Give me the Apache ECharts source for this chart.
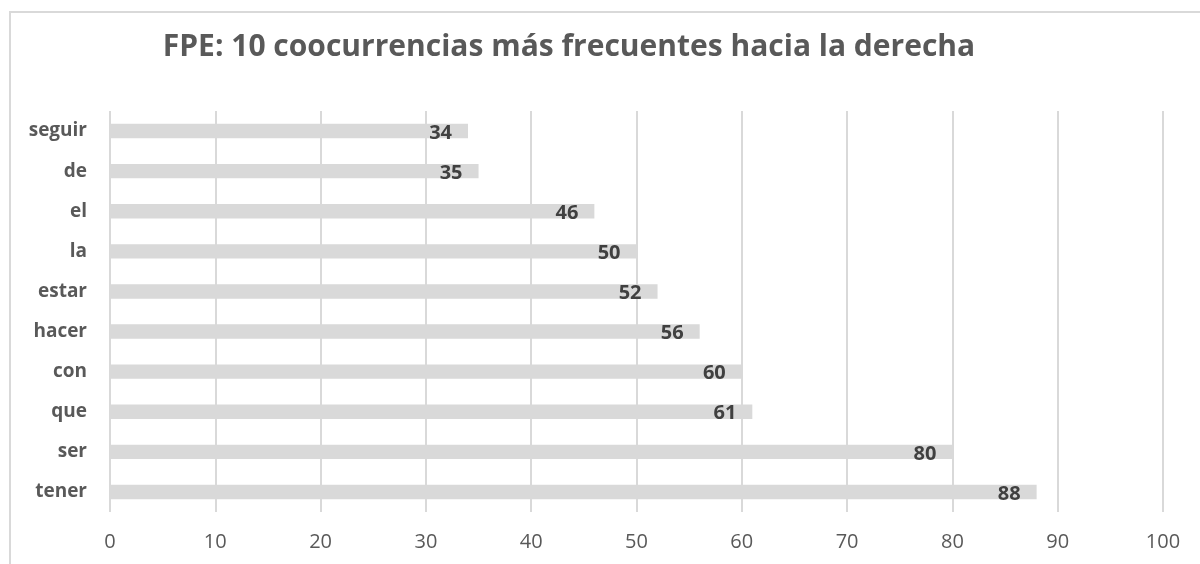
<!DOCTYPE html>
<html>
<head>
<meta charset="utf-8">
<script src="https://cdn.jsdelivr.net/npm/echarts@6/dist/echarts.min.js"></script>
<style>
  html, body { margin: 0; padding: 0; background: #fff; }
  #chart { width: 1200px; height: 564px; }
</style>
</head>
<body>
<div id="chart"></div>
<script>
// categorías de abajo hacia arriba
const categories = ['tener', 'ser', 'que', 'con', 'hacer', 'estar', 'la', 'el', 'de', 'seguir'];
const counts = [88, 80, 61, 60, 56, 52, 50, 46, 35, 34];
const xTicks = { min: 0, max: 100, interval: 10 };

const myChart = echarts.init(document.getElementById('chart'));

const option = {
  textStyle: { fontFamily: 'Open Sans' },
  title: {
    text: 'FPE: 10 coocurrencias más frecuentes hacia la derecha',
    left: 564,
    textAlign: 'center',
    top: 27,
    textStyle: { fontFamily: 'Open Sans', fontWeight: 'bold', fontSize: 30, color: '#595959' }
  },
  graphic: [
    {
      type: 'rect',
      shape: { x: 10, y: 12, width: 1300, height: 700 },
      style: { fill: 'none', stroke: '#d9d9d9', lineWidth: 2 },
      silent: true
    }
  ],
  grid: { left: 110, right: 37, top: 111, bottom: 52 },
  xAxis: {
    type: 'value',
    min: xTicks.min,
    max: xTicks.max,
    interval: xTicks.interval,
    axisLine: { show: false },
    axisTick: { show: false },
    axisLabel: { color: '#595959', fontSize: 20, margin: 20 },
    splitLine: { lineStyle: { color: '#d9d9d9', width: 2 } }
  },
  yAxis: {
    type: 'category',
    data: categories,
    axisLine: { show: false },
    axisTick: { show: false },
    axisLabel: { color: '#595959', fontSize: 19, fontWeight: 'bold', margin: 23 }
  },
  series: [
    {
      type: 'bar',
      data: counts,
      barWidth: '36%',
      itemStyle: { color: '#d9d9d9' },
      label: {
        show: true,
        position: 'insideRight',
        distance: 16,
        offset: [0, 2],
        color: '#404040',
        fontSize: 20,
        fontWeight: 'bold'
      }
    }
  ]
};
myChart.setOption(option);
</script>
</body>
</html>
